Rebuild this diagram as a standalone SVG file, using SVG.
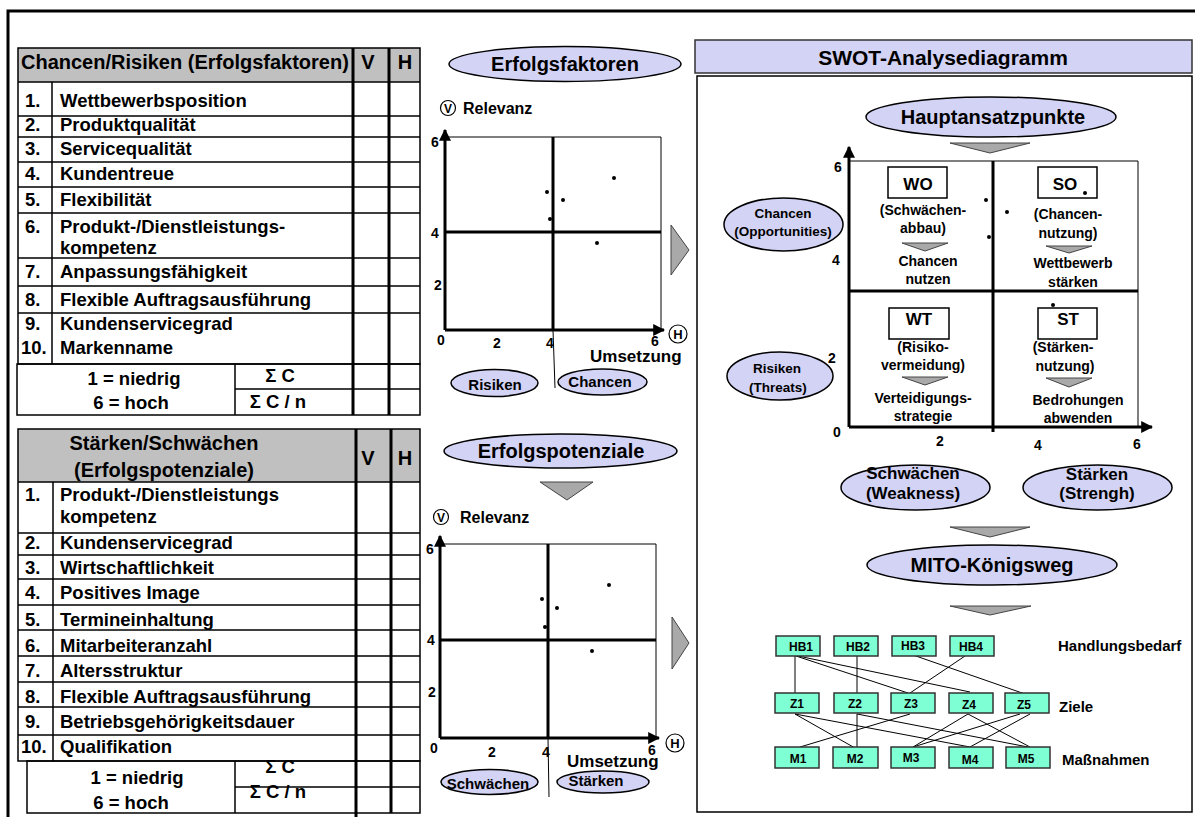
<svg xmlns="http://www.w3.org/2000/svg" width="1195" height="817" viewBox="0 0 1195 817">
<style>
text{font-family:"Liberation Sans",Arial,Helvetica,sans-serif;font-weight:bold;fill:#000}
.it{font-size:18.5px}
.hd{font-size:20px}
.c{text-anchor:middle}
.ln{stroke:#000;stroke-width:1.5;fill:none}
.thk{stroke:#000;stroke-width:3;fill:none}
.thin{stroke:#000;stroke-width:1;fill:none}
.ell{fill:#d3d3f5;stroke:#000;stroke-width:1.5}
.tri{fill:#a9a9a9;stroke:#444;stroke-width:1}
.box{fill:#7fffd4;stroke:#333;stroke-width:1.5}
.wbox{fill:#fff;stroke:#000;stroke-width:1.5}
.dot{fill:#000}
.tk{font-size:14px}
.s14{font-size:14px}
.s15{font-size:15px}
.s17{font-size:17px}
.s12{font-size:12px}
</style>
<defs>
<marker id="ah" viewBox="0 0 10 10" refX="9" refY="5" markerWidth="4" markerHeight="4" orient="auto">
<path d="M0,0 L10,5 L0,10 z" fill="#000"/>
</marker>
</defs>
<rect width="1195" height="817" fill="#fff"/>
<path d="M8,817 V11 H1195" fill="none" stroke="#000" stroke-width="3"/>

<!-- Table 1 -->
<g id="table-chancen-risiken">
<rect x="18" y="48" width="402" height="34" fill="#c0c0c0"/>
<rect x="18" y="48" width="402" height="316" class="ln"/>
<rect x="17" y="364" width="403" height="51" class="ln"/>
<path class="ln" d="M18,82H420 M18,116H420 M18,137H420 M18,162H420 M18,187H420 M18,213H420 M18,258H420 M18,286H420 M18,313H420 M52,82V364 M235,364V415 M235,389H420"/>
<path class="thk" d="M353,48V415 M389,48V415"/>
<text class="hd" x="21" y="69">Chancen/Risiken (Erfolgsfaktoren)</text>
<text class="hd c" x="368" y="69">V</text>
<text class="hd c" x="405" y="69">H</text>
<g class="it">
<text x="25" y="107">1.</text><text x="60" y="107">Wettbewerbsposition</text>
<text x="25" y="131">2.</text><text x="60" y="131">Produktqualität</text>
<text x="25" y="155">3.</text><text x="60" y="155">Servicequalität</text>
<text x="25" y="180">4.</text><text x="60" y="180">Kundentreue</text>
<text x="25" y="206">5.</text><text x="60" y="206">Flexibilität</text>
<text x="25" y="233">6.</text><text x="60" y="233">Produkt-/Dienstleistungs-</text>
<text x="60" y="254">kompetenz</text>
<text x="25" y="278">7.</text><text x="60" y="278">Anpassungsfähigkeit</text>
<text x="25" y="306">8.</text><text x="60" y="306">Flexible Auftragsausführung</text>
<text x="25" y="330">9.</text><text x="60" y="330">Kundenservicegrad</text>
<text x="21" y="354">10.</text><text x="60" y="354">Markenname</text>
<text class="c" x="134" y="385">1 = niedrig</text>
<text class="c" x="131" y="409">6 = hoch</text>
<text class="c" x="280" y="382">Σ C</text>
<text class="c" x="278" y="408">Σ C / n</text>
</g>
</g>

<!-- Table 2 -->
<g id="table-staerken-schwaechen">
<rect x="18" y="429" width="402" height="53" fill="#c0c0c0"/>
<rect x="18" y="429" width="402" height="332" class="ln"/>
<rect x="27" y="761" width="393" height="52" class="ln"/>
<path class="ln" d="M18,482H420 M18,533H420 M18,555H420 M18,579H420 M18,605H420 M18,630H420 M18,656H420 M18,682H420 M18,707H420 M18,735H420 M53,482V761 M235,761V813 M235,787H420"/>
<path class="thk" d="M356,429V817 M391,429V813"/>
<text class="hd c" x="164" y="450">Stärken/Schwächen</text>
<text class="hd c" x="164" y="477">(Erfolgspotenziale)</text>
<text class="hd c" x="368" y="465">V</text>
<text class="hd c" x="405" y="465">H</text>
<g class="it">
<text x="25" y="501">1.</text><text x="60" y="501">Produkt-/Dienstleistungs</text>
<text x="60" y="523">kompetenz</text>
<text x="25" y="549">2.</text><text x="60" y="549">Kundenservicegrad</text>
<text x="25" y="574">3.</text><text x="60" y="574">Wirtschaftlichkeit</text>
<text x="25" y="599">4.</text><text x="60" y="599">Positives Image</text>
<text x="25" y="626">5.</text><text x="60" y="626">Termineinhaltung</text>
<text x="25" y="652">6.</text><text x="60" y="652">Mitarbeiteranzahl</text>
<text x="25" y="677">7.</text><text x="60" y="677">Altersstruktur</text>
<text x="25" y="703">8.</text><text x="60" y="703">Flexible Auftragsausführung</text>
<text x="25" y="728">9.</text><text x="60" y="728">Betriebsgehörigkeitsdauer</text>
<text x="21" y="753">10.</text><text x="60" y="753">Qualifikation</text>
<text class="c" x="137" y="784">1 = niedrig</text>
<text class="c" x="131" y="809">6 = hoch</text>
<text class="c" x="280" y="773">Σ C</text>
<text class="c" x="278" y="798">Σ C / n</text>
</g>
</g>

<!-- Middle top chart -->
<g id="chart-erfolgsfaktoren">
<ellipse class="ell" cx="565" cy="64" rx="116" ry="17.5"/>
<text class="hd c" x="565" y="71">Erfolgsfaktoren</text>
<circle cx="448" cy="108" r="7.5" fill="#fff" stroke="#000" stroke-width="1.2"/>
<text class="c" x="448" y="113" style="font-size:12px">V</text>
<text x="463" y="114" style="font-size:16px">Relevanz</text>
<path class="thin" d="M445,137H661V330"/>
<path class="thk" d="M445,232H661 M553,137V330"/>
<path class="thk" d="M445,330V130" marker-end="url(#ah)"/>
<path class="thk" d="M445,330H664" marker-end="url(#ah)"/>
<path class="thin" d="M553,330L555,388"/>
<circle cx="678" cy="334" r="9" fill="#fff" stroke="#000" stroke-width="1.2"/>
<text class="c" x="678" y="339" style="font-size:13px">H</text>
<g class="tk">
<text x="431" y="147">6</text>
<text x="431" y="238">4</text>
<text x="434" y="290">2</text>
<text x="437" y="345">0</text>
<text class="c" x="497" y="348">2</text>
<text class="c" x="550" y="348">4</text>
<text class="c" x="655" y="346">6</text>
</g>
<text x="590" y="362" style="font-size:17px">Umsetzung</text>
<circle class="dot" cx="614" cy="178" r="2"/>
<circle class="dot" cx="547" cy="192" r="2"/>
<circle class="dot" cx="563" cy="200" r="2"/>
<circle class="dot" cx="550" cy="219" r="2"/>
<circle class="dot" cx="597" cy="243" r="2"/>
</g>
<g id="node-risiken-top">
<ellipse class="ell" cx="494.5" cy="383" rx="43.5" ry="13.5"/>
<text class="s15 c" x="495" y="390">Risiken</text>
</g>
<g id="node-chancen-top">
<ellipse class="ell" cx="602.5" cy="382" rx="44.5" ry="13"/>
<text class="s15 c" x="600" y="387">Chancen</text>
</g>
<g id="arrow-right-top"><path class="tri" d="M671,225 L689,250 L671,275 z"/></g>

<!-- Middle bottom chart -->
<g id="chart-erfolgspotenziale">
<ellipse class="ell" cx="560.5" cy="451" rx="116.5" ry="17"/>
<text class="hd c" x="561" y="458">Erfolgspotenziale</text>
<path class="tri" d="M540,482 L593,482 L567,500 z"/>
<circle cx="441" cy="517" r="7.5" fill="#fff" stroke="#000" stroke-width="1.2"/>
<text class="c" x="441" y="522" style="font-size:12px">V</text>
<text x="460" y="523" style="font-size:16px">Relevanz</text>
<path class="thin" d="M440,544H656V738"/>
<path class="thk" d="M440,640H656 M548,544V738"/>
<path class="thk" d="M440,738V536" marker-end="url(#ah)"/>
<path class="thk" d="M440,738H659" marker-end="url(#ah)"/>
<path class="thin" d="M548,738L549,797"/>
<circle cx="675" cy="743" r="9" fill="#fff" stroke="#000" stroke-width="1.2"/>
<text class="c" x="675" y="748" style="font-size:13px">H</text>
<g class="tk">
<text x="426" y="554">6</text>
<text x="427" y="645">4</text>
<text x="428" y="697">2</text>
<text x="430" y="753">0</text>
<text class="c" x="492" y="757">2</text>
<text class="c" x="546" y="757">4</text>
<text class="c" x="652" y="755">6</text>
</g>
<text x="567" y="767" style="font-size:17px">Umsetzung</text>
<circle class="dot" cx="609" cy="585" r="2"/>
<circle class="dot" cx="542" cy="599" r="2"/>
<circle class="dot" cx="557" cy="608" r="2"/>
<circle class="dot" cx="545" cy="627" r="2"/>
<circle class="dot" cx="592" cy="651" r="2"/>
</g>
<g id="node-schwaechen-bottom">
<ellipse class="ell" cx="489.5" cy="782" rx="48.5" ry="12.5"/>
<text class="s15 c" x="488" y="789">Schwächen</text>
</g>
<g id="node-staerken-bottom">
<ellipse class="ell" cx="603" cy="782" rx="46" ry="11"/>
<text class="s15 c" x="596" y="786">Stärken</text>
</g>
<g id="arrow-right-bottom"><path class="tri" d="M672,617 L689,643 L672,669 z"/></g>

<!-- SWOT panel -->
<g id="swot-panel">
<rect x="697" y="76" width="495" height="736" fill="#fff" stroke="#000" stroke-width="1.5"/>
<rect x="695" y="40" width="497" height="33" fill="#d3d3f5" stroke="#333" stroke-width="1.5"/>
<text class="c" x="943" y="65" style="font-size:21px">SWOT-Analysediagramm</text>
</g>
<g id="node-hauptansatzpunkte">
<ellipse class="ell" cx="991" cy="117" rx="125" ry="20"/>
<text class="hd c" x="993" y="124">Hauptansatzpunkte</text>
<path class="tri" d="M950,143 L1030,143 L990,153 z"/>
</g>
<g id="swot-chart">
<path class="thin" d="M849,161H1138V427"/>
<path class="thk" d="M849,291H1138 M993,161V432"/>
<path class="thk" d="M849,427V147" marker-end="url(#ah)"/>
<path class="thk" d="M849,427H1152" marker-end="url(#ah)"/>
<g class="tk">
<text x="834" y="172">6</text>
<text x="832" y="265">4</text>
<text x="828" y="363">2</text>
<text x="833" y="437">0</text>
<text class="c" x="940" y="446">2</text>
<text class="c" x="1038" y="450">4</text>
<text class="c" x="1137" y="449">6</text>
</g>
<circle class="dot" cx="986" cy="200" r="2"/>
<circle class="dot" cx="1007" cy="212" r="2"/>
<circle class="dot" cx="989" cy="237" r="2"/>
</g>
<g id="node-wo">
<rect class="wbox" x="888" y="167" width="59" height="31"/>
<text class="s17 c" x="918" y="190">WO</text>
<text class="s14 c" x="923" y="215">(Schwächen-</text>
<text class="s14 c" x="923" y="233">abbau)</text>
<path class="tri" d="M902,243 L948,243 L925,251 z"/>
<text class="s14 c" x="928" y="266">Chancen</text>
<text class="s14 c" x="928" y="284">nutzen</text>
</g>
<g id="node-so">
<rect class="wbox" x="1038" y="167" width="59" height="31"/>
<text class="s17 c" x="1065" y="190">SO</text>
<circle class="dot" cx="1085" cy="193" r="2"/>
<text class="s14 c" x="1068" y="219">(Chancen-</text>
<text class="s14 c" x="1068" y="238">nutzung)</text>
<path class="tri" d="M1046,246 L1092,246 L1069,253 z"/>
<text class="s14 c" x="1073" y="268">Wettbewerb</text>
<text class="s14 c" x="1073" y="287">stärken</text>
</g>
<g id="node-wt">
<rect class="wbox" x="889" y="308" width="60" height="31"/>
<text class="s17 c" x="919" y="325">WT</text>
<text class="s14 c" x="923" y="352">(Risiko-</text>
<text class="s14 c" x="923" y="370">vermeidung)</text>
<path class="tri" d="M902,377 L948,377 L925,385 z"/>
<text class="s14 c" x="923" y="403">Verteidigungs-</text>
<text class="s14 c" x="923" y="421">strategie</text>
</g>
<g id="node-st">
<rect class="wbox" x="1038" y="308" width="59" height="31"/>
<text class="s17 c" x="1068" y="325">ST</text>
<circle class="dot" cx="1053" cy="305" r="2"/>
<text class="s14 c" x="1063" y="352">(Stärken-</text>
<text class="s14 c" x="1065" y="371">nutzung)</text>
<path class="tri" d="M1046,378 L1092,378 L1069,387 z"/>
<text class="s14 c" x="1078" y="405">Bedrohungen</text>
<text class="s14 c" x="1078" y="423">abwenden</text>
</g>
<g id="node-chancen-opportunities">
<ellipse class="ell" cx="783.5" cy="224.5" rx="59.5" ry="26.5"/>
<text class="c" x="783" y="218" style="font-size:13.5px">Chancen</text>
<text class="c" x="783" y="236" style="font-size:13.5px">(Opportunities)</text>
</g>
<g id="node-risiken-threats">
<ellipse class="ell" cx="780" cy="376" rx="53" ry="24"/>
<text class="c" x="777" y="373" style="font-size:13.5px">Risiken</text>
<text class="c" x="778" y="392" style="font-size:13.5px">(Threats)</text>
</g>
<g id="node-schwaechen-weakness">
<ellipse class="ell" cx="915.5" cy="487.5" rx="74.5" ry="22.5"/>
<text class="s17 c" x="913" y="479">Schwächen</text>
<text class="s17 c" x="913" y="499">(Weakness)</text>
</g>
<g id="node-staerken-strength">
<ellipse class="ell" cx="1097.5" cy="487.5" rx="74.5" ry="22.5"/>
<text class="s17 c" x="1097" y="480">Stärken</text>
<text class="s17 c" x="1097" y="499">(Strengh)</text>
</g>
<g id="arrow-down-mito"><path class="tri" d="M950,527 L1030,527 L990,537 z"/></g>
<g id="node-mito">
<ellipse class="ell" cx="992" cy="565" rx="125" ry="20"/>
<text class="hd c" x="992" y="572">MITO-Königsweg</text>
<path class="tri" d="M950,606 L1031,606 L990,615 z"/>
</g>

<!-- connectors -->
<g id="connectors" class="thin">
<path d="M795,656V693"/>
<path d="M796,656L908,693"/>
<path d="M798,656L970,692"/>
<path d="M857,656V693"/>
<path d="M913,655L1025,694"/>
<path d="M965,656L910,693"/>
<path d="M795,714L855,748"/>
<path d="M795,714L970,747"/>
<path d="M857,714V750"/>
<path d="M857,714L1028,747"/>
<path d="M910,714L800,747"/>
<path d="M968,714L913,747"/>
<path d="M968,714L1030,747"/>
<path d="M1020,714L913,747"/>
<path d="M1030,714L970,747"/>
</g>

<g id="hb1"><rect class="box" x="776" y="636" width="44" height="20"/><text class="s12 c" x="801" y="651">HB1</text></g>
<g id="hb2"><rect class="box" x="834" y="636" width="44" height="20"/><text class="s12 c" x="858" y="651">HB2</text></g>
<g id="hb3"><rect class="box" x="892" y="636" width="44" height="20"/><text class="s12 c" x="913" y="650">HB3</text></g>
<g id="hb4"><rect class="box" x="950" y="636" width="44" height="20"/><text class="s12 c" x="971" y="651">HB4</text></g>
<g id="z1"><rect class="box" x="775" y="693" width="44" height="20"/><text class="s12 c" x="797" y="708">Z1</text></g>
<g id="z2"><rect class="box" x="834" y="693" width="44" height="20"/><text class="s12 c" x="855" y="708">Z2</text></g>
<g id="z3"><rect class="box" x="891" y="693" width="44" height="20"/><text class="s12 c" x="911" y="708">Z3</text></g>
<g id="z4"><rect class="box" x="949" y="693" width="44" height="20"/><text class="s12 c" x="969" y="709">Z4</text></g>
<g id="z5"><rect class="box" x="1005" y="693" width="44" height="20"/><text class="s12 c" x="1024" y="709">Z5</text></g>
<g id="m1"><rect class="box" x="775" y="747" width="44" height="21"/><text class="s12 c" x="798" y="763">M1</text></g>
<g id="m2"><rect class="box" x="833" y="747" width="45" height="21"/><text class="s12 c" x="855" y="763">M2</text></g>
<g id="m3"><rect class="box" x="891" y="747" width="44" height="21"/><text class="s12 c" x="911" y="762">M3</text></g>
<g id="m4"><rect class="box" x="949" y="747" width="44" height="21"/><text class="s12 c" x="970" y="764">M4</text></g>
<g id="m5"><rect class="box" x="1006" y="747" width="44" height="21"/><text class="s12 c" x="1026" y="763">M5</text></g>
<g id="labels-mito" class="s15">
<text x="1058" y="651">Handlungsbedarf</text>
<text x="1059" y="712">Ziele</text>
<text x="1062" y="765">Maßnahmen</text>
</g>
</svg>
